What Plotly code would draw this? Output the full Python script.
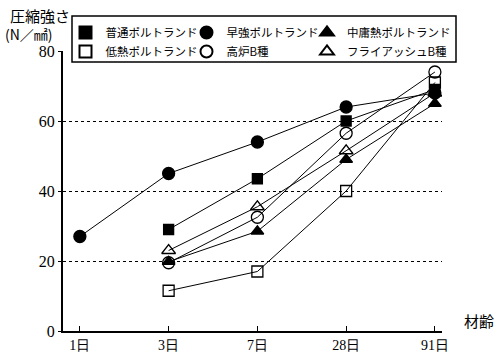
import plotly.graph_objects as go

ages = ["1日", "3日", "7日", "28日", "91日"]
x_pos = [0, 1, 2, 3, 4]

series_names = ["普通ポルトランド", "早強ポルトランド", "中庸熱ポルトランド",
                "低熱ポルトランド", "高炉B種", "フライアッシュB種"]
futsuu = [None, 29, 43.5, 60, 69]
soukyou = [27, 45, 54, 64, 68]
chuyonetsu = [None, 19.8, 28.5, 49, 65]
teinetsu = [None, 11.5, 17, 40, 71]
kouro_b = [None, 19.5, 32.5, 56.5, 74]
flyash_b = [None, 23, 35.5, 51.5, 68]

values = [futsuu, soukyou, chuyonetsu, teinetsu, kouro_b, flyash_b]
symbols = ["square", "circle", "triangle-up", "square-open", "circle-open", "triangle-up-open"]
sizes = [10, 12, 11, 11, 12, 12]
legend_ids = ["legend", "legend2", "legend3", "legend", "legend2", "legend3"]

y_ticks = [0, 20, 40, 60, 80]

FONT = "Noto Sans CJK JP"
SERIF = "Liberation Serif"

fig = go.Figure()
for name, vals in zip(series_names, values):
    xs = [x for x, v in zip(x_pos, vals) if v is not None]
    ys = [v for v in vals if v is not None]
    fig.add_trace(go.Scatter(
        x=xs, y=ys, name=name, mode="lines", showlegend=False,
        line=dict(color="black", width=1), hoverinfo="skip",
    ))
for name, vals, sym, sz, lg in zip(series_names, values, symbols, sizes, legend_ids):
    xs = [x for x, v in zip(x_pos, vals) if v is not None]
    ys = [v for v in vals if v is not None]
    fig.add_trace(go.Scatter(
        x=xs, y=ys, name=name, mode="markers", legend=lg,
        marker=dict(symbol=sym, size=sz, color="black",
                    line=dict(color="black", width=1.3)),
    ))

pw, ph = 500 - 63 - 58, 355 - 51 - 24
def px(xp): return (xp - 63) / pw
def py(yp): return (355 - 24 - yp) / ph

def leg(xp):
    return dict(
        orientation="v", x=px(xp), y=py(18), xanchor="left", yanchor="top",
        borderwidth=0, bgcolor="rgba(0,0,0,0)",
        font=dict(size=11.5, family=FONT), itemsizing="constant",
        tracegroupgap=0, itemwidth=30,
    )

fig.update_layout(
    width=500, height=355,
    margin=dict(l=63, r=58, t=51, b=24, autoexpand=False),
    paper_bgcolor="white", plot_bgcolor="white",
    font=dict(family=FONT, color="black", size=13),
    showlegend=True,
    legend=leg(65.5),
    legend2=leg(186.5),
    legend3=leg(307),
    xaxis=dict(
        range=[-0.19, 4.08], tickvals=x_pos, ticktext=ages,
        showgrid=False, zeroline=False,
        showline=True, linecolor="black", linewidth=2,
        ticks="inside", ticklen=5, tickcolor="black", tickwidth=1,
        tickfont=dict(size=14, family=SERIF),
    ),
    yaxis=dict(
        range=[0, 80], tickvals=y_ticks,
        showgrid=True, gridcolor="black", griddash="dot", gridwidth=1,
        zeroline=False,
        showline=True, linecolor="black", linewidth=2,
        ticks="outside", ticklen=3, tickcolor="black",
        tickfont=dict(size=16, family=SERIF),
    ),
    shapes=[
        dict(type="rect", xref="paper", yref="paper",
             x0=px(72), x1=px(456), y0=py(62), y1=py(16),
             line=dict(color="black", width=1.5), fillcolor="white", layer="above"),
    ],
    annotations=[
        dict(text="圧縮強さ", x=px(8), y=py(15), xref="paper", yref="paper",
             xanchor="left", yanchor="middle", showarrow=False, font=dict(size=15, family=FONT)),
        dict(text="(N／㎟)", x=px(3), y=py(34), xref="paper", yref="paper",
             xanchor="left", yanchor="middle", showarrow=False, font=dict(size=14, family=FONT)),
        dict(text="材齢", x=px(462), y=py(320), xref="paper", yref="paper",
             xanchor="left", yanchor="middle", showarrow=False, font=dict(size=15, family=FONT)),
    ],
)

fig.write_html("out.html", config={"displayModeBar": False},
               post_script="document.body.style.margin='0';")
